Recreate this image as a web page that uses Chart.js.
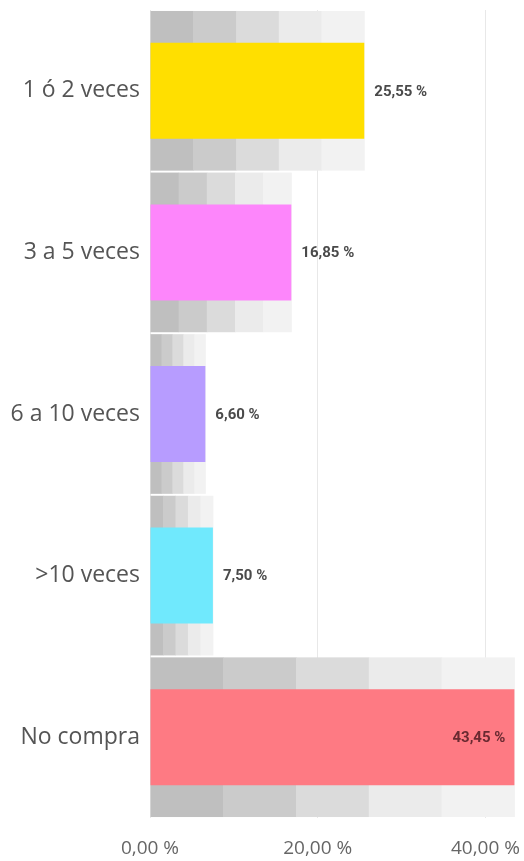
<!DOCTYPE html>
<html>
<head>
<meta charset="utf-8">
<script src="https://cdn.jsdelivr.net/npm/chart.js@4/dist/chart.umd.min.js"></script>
<style>
html,body{margin:0;padding:0;background:#fff;overflow:hidden;}
#wrap{width:524px;height:861px;position:relative;}
canvas{display:block;}
</style>
</head>
<body>
<div id="wrap"><canvas id="grafico"></canvas></div>
<script>
/* datos */
const categorias = ["1 ó 2 veces", "3 a 5 veces", "6 a 10 veces", ">10 veces", "No compra"];
const porcentajes = [25.55, 16.85, 6.60, 7.50, 43.45];
const colores = ["#ffdf00", "#fd86fb", "#b79cff", "#70e9fd", "#fe7a83"];
const ticksX = [0, 20, 40];

const grises = ["#bfbfbf", "#cbcbcb", "#dbdbdb", "#ebebeb", "#f2f2f2"];

function fmt(v){
  return v.toFixed(2).replace(".", ",") + " %";
}

/* sombra gris por detras de cada barra */
const sombra = {
  id: "sombra",
  beforeDatasetsDraw(chart){
    const ctx = chart.ctx;
    const y = chart.scales.y;
    const slot = y.getPixelForValue(1) - y.getPixelForValue(0);
    const h = slot * 0.988;
    chart.getDatasetMeta(0).data.forEach(el=>{
      const x0 = el.base, x1 = el.x;
      const w = (x1 - x0) / 5;
      for(let i=0;i<5;i++){
        ctx.fillStyle = grises[i];
        ctx.fillRect(x0 + i*w, el.y - h/2, w + 0.5, h);
      }
    });
  }
};

/* etiquetas de valor */
const etiquetas = {
  id: "etiquetas",
  afterDatasetsDraw(chart){
    const ctx = chart.ctx;
    ctx.save();
    ctx.font = "bold 15px Roboto";
    ctx.textBaseline = "middle";
    chart.getDatasetMeta(0).data.forEach((el,i)=>{
      const v = porcentajes[i];
      if(v > 40){
        ctx.textAlign = "right";
        ctx.fillStyle = "#6a2a31";
        ctx.fillText(fmt(v), el.x - 9, el.y + 1);
      } else {
        ctx.textAlign = "left";
        ctx.fillStyle = "#4a4a4a";
        ctx.fillText(fmt(v), el.x + 10, el.y + 1);
      }
    });
    ctx.restore();
  }
};

new Chart(document.getElementById("grafico"), {
  type: "bar",
  data: {
    labels: categorias,
    datasets: [{
      data: porcentajes,
      backgroundColor: colores,
      categoryPercentage: 1,
      barPercentage: 0.594
    }]
  },
  options: {
    indexAxis: "y",
    responsive: true,
    maintainAspectRatio: false,
    animation: false,
    devicePixelRatio: 1,
    layout: { padding: { top: 10, right: 5, bottom: 0, left: 0 } },
    plugins: { legend: { display: false }, tooltip: { enabled: false } },
    scales: {
      x: {
        min: 0,
        max: 44,
        afterBuildTicks: s => { s.ticks = ticksX.map(v => ({ value: v })); },
        afterFit: s => { s.height = 43; s.paddingLeft = 0; s.paddingRight = 0; },
        grid: { color: "#e8e8e8", drawTicks: false, lineWidth: 1 },
        border: { display: false },
        ticks: {
          padding: 19,
          color: "#666",
          font: { family: "Open Sans", size: 19 },
          callback: v => fmt(v)
        }
      },
      y: {
        afterFit: s => { s.width = 150; s.paddingTop = 0; s.paddingBottom = 0; },
        grid: { display: false, drawTicks: false },
        border: { display: false },
        ticks: {
          padding: 10,
          color: "#555",
          font: { family: "Open Sans", size: 23 }
        }
      }
    }
  },
  plugins: [sombra, etiquetas]
});
</script>
</body>
</html>
